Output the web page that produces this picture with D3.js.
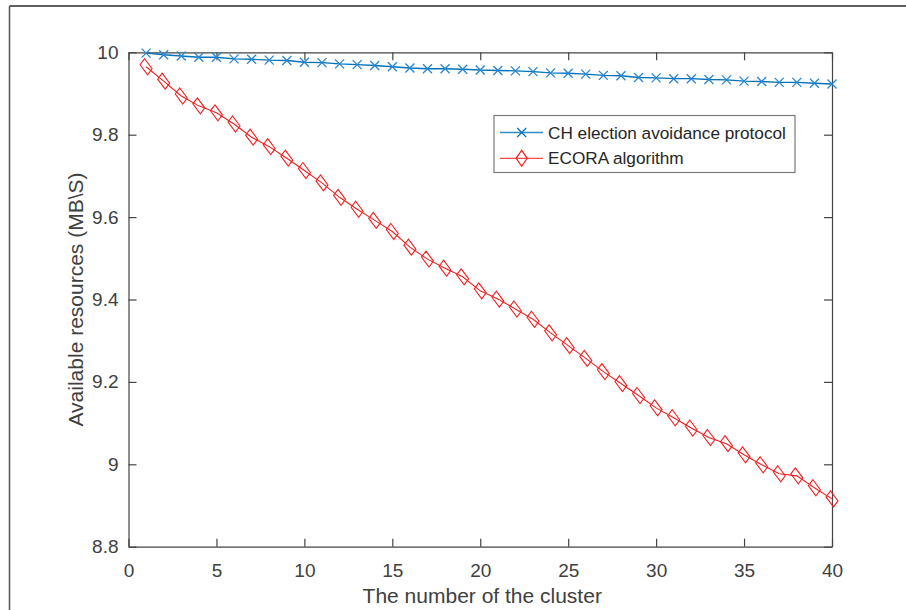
<!DOCTYPE html>
<html>
<head>
<meta charset="utf-8">
<script src="https://cdn.jsdelivr.net/npm/d3@7"></script>
<style>
  html, body { margin: 0; padding: 0; background: #fff; }
  svg { display: block; font-family: "Liberation Sans", Arial, Helvetica, sans-serif; }
</style>
</head>
<body>
<svg id="chart" width="906" height="610"></svg>
<script>
// Number of clusters on the x axis
const clusters = d3.range(1, 41);

// Available resources (MB\S) for the CH election avoidance protocol
const chValues = [
  9.998, 9.994, 9.991, 9.988, 9.988, 9.984, 9.983, 9.981, 9.980, 9.976,
  9.975, 9.972, 9.970, 9.968, 9.965, 9.962, 9.960, 9.960, 9.959, 9.957,
  9.956, 9.955, 9.953, 9.950, 9.949, 9.947, 9.944, 9.943, 9.939, 9.938,
  9.936, 9.936, 9.934, 9.933, 9.930, 9.929, 9.927, 9.927, 9.925, 9.923
];

// Available resources (MB\S) for the ECORA algorithm
const ecoraValues = [
  9.965, 9.930, 9.894, 9.870, 9.853, 9.826, 9.794, 9.771, 9.743, 9.713,
  9.683, 9.648, 9.619, 9.592, 9.565, 9.527, 9.498, 9.476, 9.455, 9.421,
  9.401, 9.377, 9.352, 9.319, 9.288, 9.257, 9.225, 9.196, 9.167, 9.137,
  9.113, 9.088, 9.065, 9.050, 9.023, 8.999, 8.977, 8.972, 8.943, 8.916
];

const xTicks = [0, 5, 10, 15, 20, 25, 30, 35, 40];
const yTicks = [8.8, 9, 9.2, 9.4, 9.6, 9.8, 10];
const seriesNames = ["CH election avoidance protocol", "ECORA algorithm"];

const svg = d3.select("#chart");
const axisColor = "#444";
const textColor = "#404040";
const blue = "#0072BD";
const red = "#f02020";

// Figure frame (top and left edges)
svg.append("line").attr("x1", 9.5).attr("y1", 6).attr("x2", 906).attr("y2", 6)
  .attr("stroke", "#2a2a2a").attr("stroke-width", 1.5);
svg.append("line").attr("x1", 9.5).attr("y1", 6).attr("x2", 9.5).attr("y2", 610)
  .attr("stroke", "#555").attr("stroke-width", 1.5);

const x = d3.scaleLinear().domain([0, 40]).range([128.5, 832]);
const y = d3.scaleLinear().domain([8.8, 10]).range([546.7, 52.3]);

const fmt = d => String(+d.toFixed(1));

function styleAxis(g, showLabels) {
  g.select(".domain").attr("stroke", axisColor).attr("stroke-width", 1.2);
  g.selectAll(".tick line").attr("stroke", axisColor).attr("stroke-width", 1.2);
  g.selectAll(".tick text").attr("fill", textColor).attr("font-size", 19);
  if (!showLabels) g.selectAll(".tick text").remove();
}

// Bottom and left axes with labels, top and right with ticks only (inward ticks)
svg.append("g").attr("transform", `translate(0,${y(8.8)})`)
  .call(d3.axisBottom(x).tickValues(xTicks).tickFormat(fmt).tickSizeInner(-8).tickSizeOuter(0).tickPadding(17))
  .call(g => styleAxis(g, true));
svg.append("g").attr("transform", `translate(${x(0)},0)`)
  .call(d3.axisLeft(y).tickValues(yTicks).tickFormat(fmt).tickSizeInner(-8).tickSizeOuter(0).tickPadding(10))
  .call(g => styleAxis(g, true));
svg.append("g").attr("transform", `translate(0,${y(10)})`)
  .call(d3.axisTop(x).tickValues(xTicks).tickSizeInner(-8).tickSizeOuter(0))
  .call(g => styleAxis(g, false));
svg.append("g").attr("transform", `translate(${x(40)},0)`)
  .call(d3.axisRight(y).tickValues(yTicks).tickSizeInner(-8).tickSizeOuter(0))
  .call(g => styleAxis(g, false));

// Axis titles
svg.append("text")
  .attr("x", (x(0) + x(40)) / 2 + 2).attr("y", 603)
  .attr("text-anchor", "middle").attr("font-size", 21).attr("fill", textColor)
  .text("The number of the cluster");
svg.append("text")
  .attr("transform", `translate(83,${(y(8.8) + y(10)) / 2}) rotate(-90)`)
  .attr("text-anchor", "middle").attr("font-size", 21).attr("fill", textColor)
  .text("Available resources (MB\\S)");

const line = d3.line().x(d => x(d[0])).y(d => y(d[1]));
const chData = clusters.map((c, i) => [c, chValues[i]]);
const ecoraData = clusters.map((c, i) => [c, ecoraValues[i]]);

// Marker shapes
const crossPath = "M-4.5,-4.5L4.5,4.5M-4.5,4.5L4.5,-4.5";
const rhombusPath = "M-1.5,-8L6,2L1.5,8L-6,-2Z";
const diamondPath = "M0,-8L5.5,0L0,8L-5.5,0Z";

// ECORA series
svg.append("path").datum(ecoraData)
  .attr("d", line).attr("fill", "none").attr("stroke", red).attr("stroke-width", 1.1);
svg.append("g").selectAll("path").data(ecoraData).join("path")
  .attr("transform", d => `translate(${x(d[0])},${y(d[1])})`)
  .attr("d", rhombusPath).attr("fill", "none").attr("stroke", red).attr("stroke-width", 1.1);

// CH election avoidance series
svg.append("path").datum(chData)
  .attr("d", line).attr("fill", "none").attr("stroke", blue).attr("stroke-width", 1.4);
svg.append("g").selectAll("path").data(chData).join("path")
  .attr("transform", d => `translate(${x(d[0])},${y(d[1])})`)
  .attr("d", crossPath).attr("fill", "none").attr("stroke", "#2a86d0").attr("stroke-width", 1.3);

// Legend
const legend = svg.append("g");
legend.append("rect")
  .attr("x", 494).attr("y", 115.5).attr("width", 301).attr("height", 57)
  .attr("fill", "#fff").attr("stroke", "#7a7a7a").attr("stroke-width", 1.2);
const rows = [
  { name: seriesNames[0], color: blue, marker: crossPath, y: 132.5 },
  { name: seriesNames[1], color: red, marker: diamondPath, y: 158.3 }
];
rows.forEach(r => {
  legend.append("line").attr("x1", 500).attr("x2", 543).attr("y1", r.y).attr("y2", r.y)
    .attr("stroke", r.color).attr("stroke-width", 1.3).attr("opacity", 0.8);
  legend.append("path").attr("transform", `translate(521.7,${r.y})`)
    .attr("d", r.marker).attr("fill", "none").attr("stroke", r.color).attr("stroke-width", 1.2);
  legend.append("text").attr("x", 548).attr("y", r.y).attr("dy", "0.35em")
    .attr("font-size", 17.2).attr("fill", "#262626").text(r.name);
});
</script>
</body>
</html>
